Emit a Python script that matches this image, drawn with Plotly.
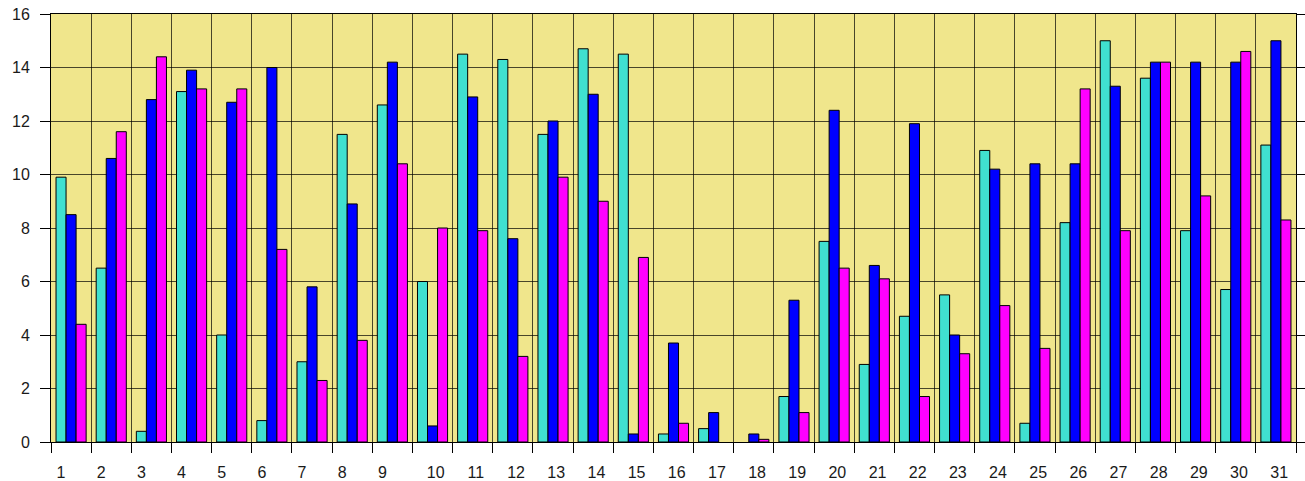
import plotly.graph_objects as go

days = list(range(1, 32))
tick_labels = [str(d) for d in days]

series_a = [9.9, 6.5, 0.4, 13.1, 4.0, 0.8, 3.0, 11.5, 12.6, 6.0,
            14.5, 14.3, 11.5, 14.7, 14.5, 0.3, 0.5, None, 1.7, 7.5,
            2.9, 4.7, 5.5, 10.9, 0.7, 8.2, 15.0, 13.6, 7.9, 5.7, 11.1]
series_b = [8.5, 10.6, 12.8, 13.9, 12.7, 14.0, 5.8, 8.9, 14.2, 0.6,
            12.9, 7.6, 12.0, 13.0, 0.3, 3.7, 1.1, 0.3, 5.3, 12.4,
            6.6, 11.9, 4.0, 10.2, 10.4, 10.4, 13.3, 14.2, 14.2, 14.2, 15.0]
series_c = [4.4, 11.6, 14.4, 13.2, 13.2, 7.2, 2.3, 3.8, 10.4, 8.0,
            7.9, 3.2, 9.9, 9.0, 6.9, 0.7, None, 0.1, 1.1, 6.5,
            6.1, 1.7, 3.3, 5.1, 3.5, 13.2, 7.9, 14.2, 9.2, 14.6, 8.3]

colors = ["#40E0D0", "#0000FF", "#FF00FF"]
y_ticks = list(range(0, 17, 2))

fig = go.Figure()
for vals, col in zip([series_a, series_b, series_c], colors):
    fig.add_trace(go.Bar(x=days, y=vals, marker=dict(color=col, line=dict(color="#000000", width=1)),
                         hoverinfo="skip", showlegend=False))

# dummy trace so the label axis is drawn
fig.add_trace(go.Scatter(x=[], y=[], xaxis="x2", showlegend=False, hoverinfo="skip"))

boundaries = [d - 0.5 for d in days] + [days[-1] + 0.5]
label_pos = [d + (-0.25 if len(t) == 1 else 0.08) for d, t in zip(days, tick_labels)]

font = dict(family="Liberation Sans, Arial, sans-serif", size=16, color="#1a1a1a")

fig.update_layout(
    width=1305, height=481,
    margin=dict(l=51, r=9, t=14, b=39, autoexpand=False),
    paper_bgcolor="#FFFFFF",
    plot_bgcolor="#F0E68C",
    barmode="group", bargap=0.25, bargroupgap=0,
    font=font,
    xaxis=dict(range=[0.5, 31.5], tickmode="array", tickvals=boundaries, showticklabels=False,
               ticks="outside", ticklen=10, tickcolor="#000000", tickwidth=1,
               showgrid=True, gridcolor="rgba(0,0,0,0.7)", gridwidth=1, automargin=False,
               showline=True, linecolor="#000000", linewidth=1, mirror=True, zeroline=False),
    xaxis2=dict(range=[0.5, 31.5], overlaying="x", side="bottom", anchor="y", matches="x",
                tickmode="array", tickvals=label_pos, ticktext=tick_labels,
                ticks="outside", ticklen=16, tickcolor="rgba(0,0,0,0)", automargin=False,
                showgrid=False, showline=False, zeroline=False, tickfont=font),
    yaxis=dict(range=[0, 16], tickmode="array", tickvals=y_ticks, ticktext=[str(v) for v in y_ticks],
               ticks="outside", ticklen=10, tickcolor="#000000", tickwidth=1, automargin=False,
               showgrid=True, gridcolor="rgba(0,0,0,0.7)", gridwidth=1,
               showline=True, linecolor="#000000", linewidth=1, mirror="ticks", zeroline=False,
               ticklabelstandoff=7, tickfont=font),
)

fig.write_html("out.html", config={"displayModeBar": False, "staticPlot": True},
               post_script="document.body.style.margin='0';document.body.style.overflow='hidden';")
